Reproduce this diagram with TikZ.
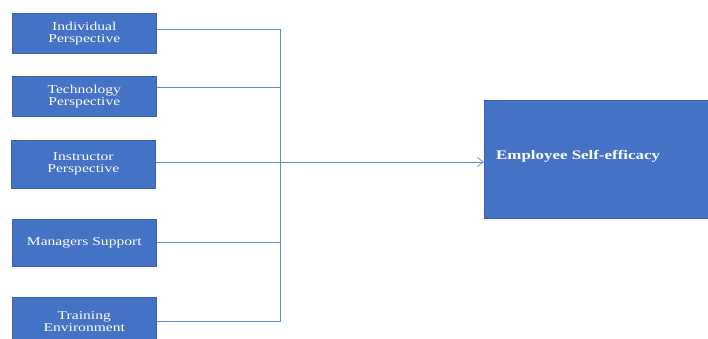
\documentclass[tikz,border=0pt]{standalone}
\usepackage{fontspec}
\setmainfont{Liberation Serif}
\newfontfamily\widefont[FakeStretch=1.3]{Liberation Serif}
\usetikzlibrary{arrows.meta}
\definecolor{boxfill}{HTML}{4472C4}
\definecolor{boxedge}{HTML}{3A62A8}
\definecolor{linkblue}{HTML}{5B8BD3}
\tikzset{
  factor/.style={draw=boxedge, line width=0.6pt, fill=boxfill, text=white,
    minimum width=144pt, minimum height=40pt, inner sep=0pt, align=center,
    font=\widefont\fontsize{12pt}{12pt}\selectfont},
  link/.style={draw=linkblue, line width=0.8pt},
}
\begin{document}
\begin{tikzpicture}[x=1pt,y=-1pt]
  \useasboundingbox (0,0) rectangle (708,338);
  % input factors
  \node[factor, anchor=north west] (ind) at (12,13) {Individual\\Perspective};
  \node[factor, anchor=north west] (tec) at (12,76) {Technology\\Perspective};
  \node[factor, anchor=north west, minimum height=48pt] (ins) at (11,140) {Instructor\\Perspective};
  \node[factor, anchor=north west, minimum height=47pt] (man) at (12,219) {Managers Support};
  \node[factor, anchor=north west, minimum height=48pt] (tra) at (12,297) {Training\\Environment};
  % outcome
  \node[draw=boxedge, line width=0.6pt, fill=boxfill, anchor=north west,
        minimum width=224pt, minimum height=118pt, inner sep=0pt] (emp) at (484,100) {};
  \node[text=white, anchor=west, inner sep=0pt,
        font=\widefont\fontsize{13pt}{13pt}\selectfont\bfseries]
        (emplabel) at (496,156) {Employee Self-efficacy};
  % collecting bus
  \coordinate (btop) at (280,29);
  \coordinate (bbot) at (280,321);
  \coordinate (bmid) at (280,162);
  \draw[link] (ind.east |- btop) -- (btop) -- (bbot) -- (tra.east |- bbot);
  \draw[link] (tec.east |- 0,87) -- (280,87);
  \draw[link] (ins.east |- bmid) -- (bmid);
  \draw[link] (man.east |- 0,242) -- (280,242);
  \draw[link, -{Straight Barb[length=6pt,width=9pt]}] (bmid) -- (emp.west |- bmid);
\end{tikzpicture}
\end{document}
